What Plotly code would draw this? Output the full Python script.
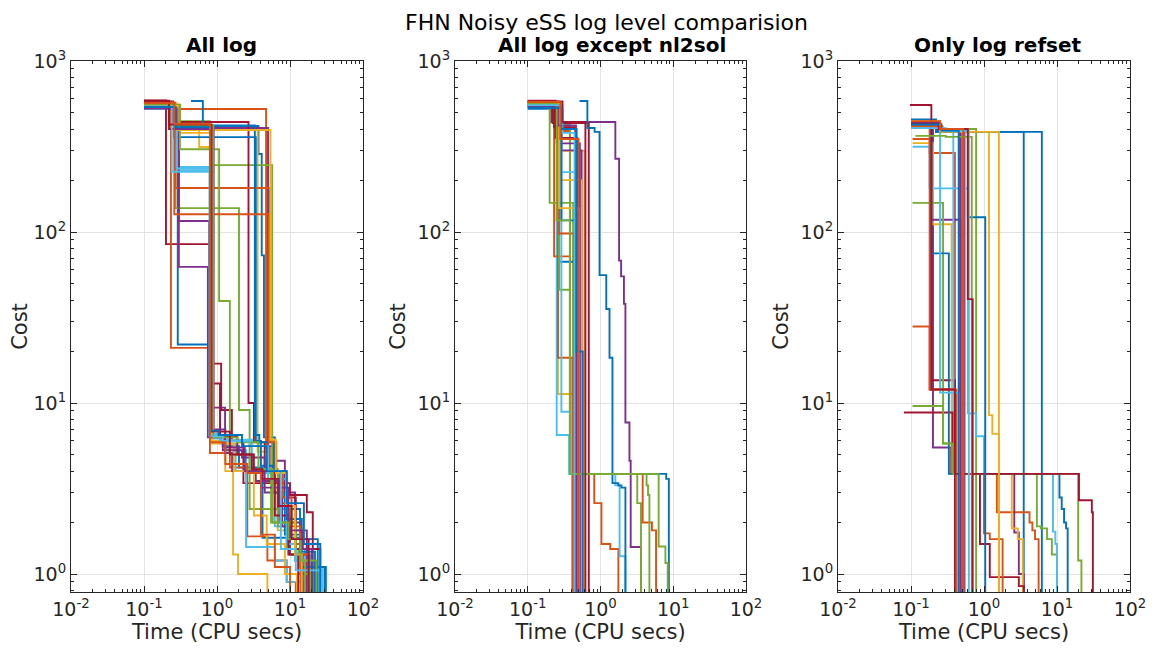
import plotly.graph_objects as go

# ---------------- data ----------------
COLORS = ["#0072BD", "#D95319", "#EDB120", "#7E2F8E", "#77AC30", "#4DBEEE", "#A2142F"]

PANEL_TITLES = ["All log", "All log except nl2sol", "Only log refset"]
MAIN_TITLE = "FHN Noisy eSS log level comparision"
X_LABEL = "Time (CPU secs)"
Y_LABEL = "Cost"
X_TICKS = [0.01, 0.1, 1, 10, 100]
X_TICK_TEXT = ["10<sup>-2</sup>", "10<sup>-1</sup>", "10<sup>0</sup>", "10<sup>1</sup>", "10<sup>2</sup>"]
Y_TICKS = [1, 10, 100, 1000]
Y_TICK_TEXT = ["10<sup>0</sup>", "10<sup>1</sup>", "10<sup>2</sup>", "10<sup>3</sup>"]

# Panel 1: All log  (each run: times at which the cost changes, and the new cost)
ALL_LOG_TIMES = [
    [0.1, 0.27, 3.7, 4.1, 4.4, 6.2, 8.5, 13.7, 24],
    [0.1, 0.25, 4.7, 5.3, 7.3, 11.7, 16],
    [0.1, 0.27, 3.6, 4.9, 6.8, 10, 18.6],
    [0.1, 0.28, 5.0, 5.8, 8.5, 11.7, 17, 22],
    [0.1, 0.31, 0.8, 5.7, 6.8, 10, 14, 19],
    [0.1, 0.3, 0.8, 1.3, 2.5, 6.2, 10, 16, 28],
    [0.1, 0.2, 0.83, 1.14, 1.6, 2.3, 10, 17, 20.5],
    [0.1, 0.29, 0.8, 1.2, 2.0, 4.2, 13.7, 18.6, 30],
    [0.1, 0.234, 0.8, 1.5, 2.6, 4.9, 9, 12],
    [0.1, 0.26, 0.57, 0.85, 1.3, 1.66, 1.94, 4.9],
    [0.1, 0.3, 0.78, 1.29, 1.61, 3.4, 6.8, 13.7, 17],
    [0.1, 0.27, 2.0, 2.8, 6.8, 9, 13, 20],
    [0.1, 0.29, 0.8, 1.1, 1.8, 2.5, 6.2, 9, 15],
    [0.1, 0.25, 2.7, 3.2, 4.5, 7.3, 12, 26],
    [0.1, 0.26, 3.4, 4.0, 5.8, 8.5, 14, 31],
    [0.1, 0.27, 5.3, 6.2, 7.3, 9.5, 14],
    [0.1, 0.3, 0.86, 1.7, 3.2, 4.8, 8.5, 12.5],
    [0.1, 0.3, 0.75, 1.2, 2.2, 4.5, 7.8, 10, 15],
    [0.1, 0.31, 1.07, 1.5, 2.8, 5.5, 12, 16],
    [0.1, 0.28, 0.8, 1.4, 3.0, 5.0, 9, 11.7, 20],
    [0.1, 0.22, 0.8, 1.1, 1.9, 3.2, 6.2, 9.5, 13],
    [0.44, 0.64, 3.3, 3.8, 6.0, 9, 14.5, 22],
    [0.1, 0.26, 5.1, 6.5, 8, 10.5, 13.7, 18],
    [0.1, 0.29, 5.4, 6.4, 8.8, 11.7, 14.5],
    [0.1, 0.28, 0.9, 1.3, 2.4, 4.0, 9.5, 15, 20],
    [0.1, 0.26, 0.89, 1.9, 3.7, 5.8, 9.5, 14, 23],
    [0.1, 0.24, 0.79, 1.2, 2.8, 5.0, 7.5, 12, 28],
    [0.1, 0.22, 0.84, 1.5, 3.0, 4.2, 7.0, 10.5, 18],
    [0.1, 0.27, 0.82, 1.05, 2.2, 4.8, 9, 15.5, 26],
    [0.1, 0.26, 0.8, 1.3, 2.6, 4.0, 6.2, 10],
]
ALL_LOG_COSTS = [
    [545, 417, 286, 73, 6.3, 4.0, 2.4, 1.6, 0.5],
    [575, 524, 5.5, 4.0, 2.0, 1.2, 0.5],
    [560, 406, 5.2, 4.0, 1.8, 1.3, 0.5],
    [530, 406, 5.6, 4.6, 3.0, 1.8, 1.2, 0.5],
    [555, 445, 246, 4.1, 2.4, 1.5, 1.1, 0.5],
    [550, 240, 6.2, 5.3, 3.9, 1.9, 1.4, 1.1, 0.5],
    [588, 85, 17, 9.1, 6.0, 3.4, 2.9, 2.3, 0.5],
    [540, 22, 6.4, 5.6, 4.2, 1.63, 1.3, 1.1, 0.5],
    [578, 21, 5.1, 4.2, 1.66, 1.2, 0.9, 0.5],
    [552, 430, 314, 6.0, 4.0, 1.3, 1.0, 0.5],
    [535, 116, 9.4, 5.1, 4.0, 3.5, 2.0, 1.5, 0.5],
    [548, 138, 9.1, 2.4, 1.9, 1.4, 1.0, 0.5],
    [545, 230, 6.6, 5.8, 4.0, 1.44, 1.2, 0.9, 0.5],
    [580, 440, 10, 5.9, 4.0, 2.8, 1.4, 0.5],
    [528, 359, 6.0, 4.3, 3.0, 1.7, 1.1, 0.5],
    [570, 181, 6.0, 4.0, 2.6, 1.5, 0.5],
    [558, 380, 5.8, 4.0, 2.2, 1.5, 1.0, 0.5],
    [532, 62.5, 6.3, 5.3, 4.8, 3.0, 1.9, 1.3, 0.5],
    [553, 305, 39.5, 5.0, 4.0, 2.0, 1.2, 0.5],
    [540, 235, 6.5, 6.1, 4.1, 3.6, 1.5, 1.2, 0.5],
    [586, 400, 13, 6.4, 5.0, 4.0, 2.2, 1.3, 0.5],
    [583, 420, 6.5, 5.9, 4.0, 2.1, 1.35, 0.5],
    [572, 127, 5.9, 4.0, 2.8, 1.9, 1.3, 0.5],
    [546, 395, 6.1, 3.9, 2.5, 1.3, 0.5],
    [527, 400, 7.0, 5.5, 4.0, 3.2, 1.8, 1.4, 0.5],
    [557, 420, 6.3, 5.9, 4.1, 2.0, 1.6, 1.2, 0.5],
    [543, 225, 6.4, 6.0, 5.6, 4.0, 1.4, 1.05, 0.5],
    [582, 425, 6.8, 5.0, 4.1, 3.6, 2.5, 1.6, 0.5],
    [538, 410, 6.9, 6.5, 5.6, 4.0, 2.6, 1.5, 0.5],
    [566, 430, 5.9, 4.4, 3.9, 1.7, 1.1, 0.5],
]

# Panel 2: All log except nl2sol
NO_NL2SOL_TIMES = [
    [0.1, 0.3, 0.38, 8.0, 8.7],
    [0.1, 0.25, 0.38, 0.82, 1.03, 1.36, 1.76],
    [0.1, 0.26, 0.45],
    [0.1, 0.21, 1.6, 1.8, 1.92, 2.1, 2.2, 2.5, 2.6, 3.6],
    [0.1, 0.24, 0.38, 3.2, 3.6],
    [0.1, 0.25, 0.37, 1.6, 1.83, 2.2],
    [0.1, 0.22, 0.69],
    [0.515, 0.66, 0.83, 0.97, 1.2, 1.33, 1.46, 1.76, 1.94, 2.2],
    [0.1, 0.23, 0.38, 3.8, 5.1, 5.8],
    [0.1, 0.29, 0.6],
    [0.1, 0.29, 0.55],
    [0.1, 0.2, 0.42],
    [0.1, 0.28, 0.5],
    [0.1, 0.24, 0.48],
    [0.1, 0.27, 0.47],
    [0.1, 0.26, 0.41],
    [0.1, 0.28, 0.55],
    [0.1, 0.25, 0.52],
    [0.1, 0.27, 0.38, 4.3, 4.5, 4.7],
    [0.1, 0.29, 0.38, 0.44],
    [0.1, 0.23, 0.45],
    [0.1, 0.29, 0.45],
    [0.1, 0.27, 0.43],
    [0.1, 0.27, 0.5],
    [0.1, 0.26, 0.46],
    [0.1, 0.25, 0.38, 6.3, 7.8, 8.4],
    [0.1, 0.3, 0.44],
    [0.1, 0.3, 0.62],
    [0.1, 0.29, 0.47, 0.57],
    [0.1, 0.28, 0.5],
]
NO_NL2SOL_COSTS = [
    [525, 420, 3.85, 3.6, 0.5],
    [570, 390, 3.85, 2.6, 1.5, 1.4, 0.5],
    [575, 11.3, 0.5],
    [560, 440, 268, 68, 55, 38, 7.7, 4.6, 1.44, 0.5],
    [568, 430, 3.85, 2.6, 0.5],
    [560, 6.5, 3.85, 3.3, 1.27, 0.5],
    [582, 434, 0.5],
    [583, 406, 385, 56, 35.5, 18.4, 3.4, 3.3, 3.2, 0.5],
    [574, 72, 3.85, 2.0, 1.8, 0.5],
    [565, 298, 0.5],
    [550, 300, 0.5],
    [562, 148, 0.5],
    [556, 224, 0.5],
    [585, 355, 0.5],
    [540, 67, 0.5],
    [580, 18.4, 0.5],
    [572, 201, 0.5],
    [548, 330, 0.5],
    [566, 46, 3.85, 3.3, 2.9, 0.5],
    [558, 8.9, 3.85, 0.5],
    [578, 410, 0.5],
    [535, 117, 0.5],
    [568, 98, 0.5],
    [570, 138, 0.5],
    [545, 420, 0.5],
    [560, 117, 3.85, 1.45, 1.16, 0.5],
    [552, 380, 0.5],
    [580, 440, 0.5],
    [533, 400, 20, 0.5],
    [576, 350, 0.5],
]

# Panel 3: Only log refset
REFSET_TIMES = [
    [0.1, 0.22, 3.5],
    [0.105, 0.18, 0.4, 1.5, 4.2, 4.6, 5.0, 5.6],
    [0.1, 0.25, 1.17, 1.3, 1.6],
    [0.1, 0.2, 0.35, 2.6, 3.0, 3.5],
    [0.1, 0.26, 0.78],
    [0.105, 0.18, 0.6, 0.78, 1.0, 1.6],
    [0.097, 0.19, 0.4],
    [0.1, 0.22, 6.2],
    [0.105, 0.18, 0.42],
    [0.105, 0.2, 0.36, 2.4, 2.9, 3.4],
    [0.1, 0.19, 0.5],
    [0.105, 0.275, 0.4, 5.3, 6.0, 7.3, 8.5, 10],
    [0.1, 0.22, 0.38, 8.8, 9.5, 10],
    [0.08, 0.37, 0.88, 1.2, 3.0, 3.5],
    [0.1, 0.19, 0.33, 10.8, 11.6, 12.5, 13.3, 14],
    [0.1, 0.18, 0.4, 1.0, 1.2, 1.8],
    [0.1, 0.23, 0.55],
    [0.1, 0.23, 0.47],
    [0.105, 0.275, 0.37, 19.5, 21.6],
    [0.1, 0.25, 0.45],
    [0.1, 0.19, 0.4, 20, 30, 31],
    [0.1, 0.22, 0.6, 1.04],
    [0.1, 0.27, 0.5],
    [0.1, 0.25, 1.6],
    [0.1, 0.24, 0.53],
    [0.115, 0.3, 0.68],
    [0.1, 0.3, 0.62],
    [0.1, 0.24, 0.6, 0.7],
    [0.1, 0.26, 0.45],
    [0.1, 0.25, 0.52],
]
REFSET_COSTS = [
    [455, 385, 0.5],
    [350, 290, 3.85, 2.3, 2.0, 1.8, 1.6, 0.5],
    [445, 385, 8.5, 6.6, 0.5],
    [418, 5.5, 3.85, 1.75, 1.0, 0.5],
    [430, 400, 0.5],
    [315, 180, 8.7, 6.4, 3.85, 0.5],
    [553, 13.6, 0.5],
    [440, 385, 0.5],
    [28, 12, 0.5],
    [331, 111, 3.85, 1.85, 1.6, 0.5],
    [425, 118, 0.5],
    [148, 5.8, 3.85, 1.9, 1.85, 1.6, 1.3, 0.5],
    [420, 390, 3.85, 1.77, 1.5, 0.5],
    [8.8, 3.85, 1.5, 0.96, 0.85, 0.5],
    [430, 75, 3.85, 2.8, 2.4, 2.0, 1.85, 0.5],
    [440, 12, 3.85, 1.73, 1.6, 0.5],
    [435, 400, 0.5],
    [420, 395, 0.5],
    [9.6, 5.8, 3.85, 1.2, 0.5],
    [410, 11.5, 0.5],
    [440, 12, 3.85, 2.7, 2.3, 0.5],
    [430, 385, 122, 0.5],
    [415, 395, 0.5],
    [430, 385, 0.5],
    [440, 400, 0.5],
    [365, 360, 0.5],
    [405, 390, 0.5],
    [430, 400, 40.5, 0.5],
    [425, 392, 0.5],
    [445, 400, 0.5],
]

PANELS = [
    (ALL_LOG_TIMES, ALL_LOG_COSTS),
    (NO_NL2SOL_TIMES, NO_NL2SOL_COSTS),
    (REFSET_TIMES, REFSET_COSTS),
]

# ---------------- figure ----------------
# The page body has an 8 px margin, so the figure is drawn 8 px in from the
# window corner; screen positions below are converted to figure positions.
OFF = 8
W, H = 1154 - 2 * OFF, 659 - 2 * OFF - 2
FONT = "DejaVu Sans"
INK = "#262626"


def fx(sx):
    return (sx - OFF) / W


def fy(sy):
    return 1 - (sy - OFF) / H


X_DOMAINS = [[fx(71), fx(363)], [fx(455), fx(746)], [fx(838), fx(1130)]]
Y_DOMAIN = [fy(592), fy(61)]

x_minor = [k * 10.0 ** e for e in range(-2, 2) for k in range(2, 10)]
y_minor = [k * 10.0 ** e for e in range(-1, 3) for k in range(2, 10) if k * 10.0 ** e >= 0.79]

fig = go.Figure()

for p, (times, costs) in enumerate(PANELS):
    xa = "x" if p == 0 else f"x{p + 1}"
    ya = "y" if p == 0 else f"y{p + 1}"
    for i, (t, c) in enumerate(zip(times, costs)):
        fig.add_trace(go.Scatter(
            x=t, y=c, mode="lines", xaxis=xa, yaxis=ya,
            line=dict(color=COLORS[i % len(COLORS)], width=1.9, shape="hv"),
            showlegend=False, hoverinfo="skip",
        ))

    axis_common = dict(
        type="log", showline=True, linecolor=INK, linewidth=1, mirror="allticks",
        ticks="inside", ticklen=6, tickwidth=1, tickcolor=INK,
        showgrid=True, gridcolor="#e3e3e3", gridwidth=1, zeroline=False,
        tickfont=dict(family=FONT, size=19, color=INK), automargin=False,
        ticklabeloverflow="allow",
    )
    xkey = "xaxis" if p == 0 else f"xaxis{p + 1}"
    ykey = "yaxis" if p == 0 else f"yaxis{p + 1}"
    fig.update_layout({
        xkey: dict(
            axis_common, domain=X_DOMAINS[p], anchor=ya, range=[-2, 2],
            tickvals=X_TICKS, ticktext=X_TICK_TEXT,
            minor=dict(tickvals=x_minor, ticks="inside", ticklen=3, tickcolor=INK, showgrid=False),
            title=dict(text=X_LABEL, font=dict(family=FONT, size=21, color=INK), standoff=2),
        ),
        ykey: dict(
            axis_common, domain=Y_DOMAIN, anchor=xa, range=[-0.105, 3],
            tickvals=Y_TICKS, ticktext=Y_TICK_TEXT,
            minor=dict(tickvals=y_minor, ticks="inside", ticklen=3, tickcolor=INK, showgrid=False),
            title=dict(text=Y_LABEL, font=dict(family=FONT, size=21, color=INK), standoff=6),
        ),
    })

annotations = [dict(
    text=MAIN_TITLE, x=fx(606), y=1, xref="paper", yref="paper",
    xanchor="center", yanchor="top", showarrow=False,
    font=dict(family=FONT, size=22, color="#000000"),
)]
title_centers = [221, 612, 998]
for p, name in enumerate(PANEL_TITLES):
    annotations.append(dict(
        text=f"<b>{name}</b>", x=fx(title_centers[p]), y=fy(45),
        xref="paper", yref="paper", xanchor="center", yanchor="middle",
        showarrow=False, font=dict(family=FONT, size=20, color="#000000"),
    ))

fig.update_layout(
    width=W, height=H, margin=dict(l=0, r=0, t=0, b=0),
    paper_bgcolor="white", plot_bgcolor="white",
    annotations=annotations, showlegend=False,
)

fig.write_html("out.html")
